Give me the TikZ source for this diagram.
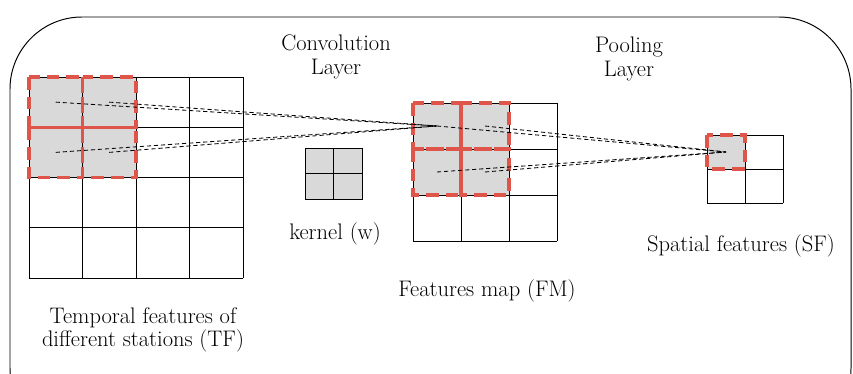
\documentclass[tikz,border=0pt]{standalone}
\usetikzlibrary{positioning}
\definecolor{poolred}{HTML}{E0554A}
\definecolor{cellgray}{HTML}{D9D9D9}

\begin{document}
\begin{tikzpicture}[x=0.025cm,y=-0.025cm,
  cellline/.style={line width=0.7pt},
  redbox/.style={draw=poolred,line width=2.3pt,dash pattern=on 9pt off 5pt},
  link/.style={dash pattern=on 3pt off 2pt,line width=0.6pt},
  lbl/.style={font=\fontsize{16}{16.6}\selectfont,align=center,inner sep=0pt}]
  \useasboundingbox (0,0) rectangle (853,374);
  \clip (0,0) rectangle (853,374);
  \draw[line width=0.7pt,rounded corners=1.8cm] (10,17) rectangle (851,440);

  % temporal features (TF)
  \fill[cellgray] (29,77) rectangle (136,177.5);
  \foreach \i in {0,...,4} {
    \draw[cellline] ({29+53.5*\i},77) -- ({29+53.5*\i},278);
    \draw[cellline] (29,{77+50.25*\i}) -- (243,{77+50.25*\i});
  }
  \foreach \i/\j in {0/0,1/0,0/1,1/1}
    \draw[redbox] ({29+53.5*\i},{77+50.25*\j}) rectangle +(53.5,50.25);
  \foreach \i in {1,2}
    \foreach \j in {1,2}
      \coordinate (tf\i\j) at ({29+53.5*(\i-0.5)},{77+50.25*(\j-0.5)});

  % kernel
  \fill[cellgray] (305,148) rectangle (362,199);
  \draw[cellline] (305,148) rectangle (362,199);
  \draw[cellline] (333.5,148) -- (333.5,199);
  \draw[cellline] (305,173.5) -- (362,173.5);

  % features map (FM)
  \fill[cellgray] (413,103) rectangle (509,195);
  \foreach \i in {0,...,3} {
    \draw[cellline] ({413+48*\i},103) -- ({413+48*\i},241);
    \draw[cellline] (413,{103+46*\i}) -- (557,{103+46*\i});
  }
  \foreach \i/\j in {0/0,1/0,0/1,1/1}
    \draw[redbox] ({413+48*\i},{103+46*\j}) rectangle +(48,46);
  \foreach \i in {1,2}
    \foreach \j in {1,2}
      \coordinate (fm\i\j) at ({413+48*(\i-0.5)},{103+46*(\j-0.5)});

  % spatial features (SF)
  \fill[cellgray] (707,135) rectangle (745,170);
  \foreach \i in {0,1,2} {
    \draw[cellline] ({707+38*\i},135) -- ({707+38*\i},203);
    \draw[cellline] (707,{135+34*\i}) -- (783,{135+34*\i});
  }
  \draw[redbox] (707,135) rectangle +(38,34);
  \coordinate (sf11) at (726,152);

  \foreach \c in {tf11,tf21,tf12,tf22}
    \draw[link] (\c) -- (fm11);
  \foreach \c in {fm11,fm21,fm12,fm22}
    \draw[link] (\c) -- (sf11);

  \node[lbl] (convtxt) at (336,57) {Convolution\\Layer};
  \node[lbl] (pooltxt) at (629,59) {Pooling\\Layer};
  \node[lbl] (kerneltxt) at (335,234) {kernel (w)};
  \node[lbl] (fmtxt) at (487,291) {Features map (FM)};
  \node[lbl] (sftxt) at (741,246) {Spatial features (SF)};
  \node[lbl] (tftxt) at (143,330) {Temporal features of\\different stations (TF)};
\end{tikzpicture}
\end{document}
